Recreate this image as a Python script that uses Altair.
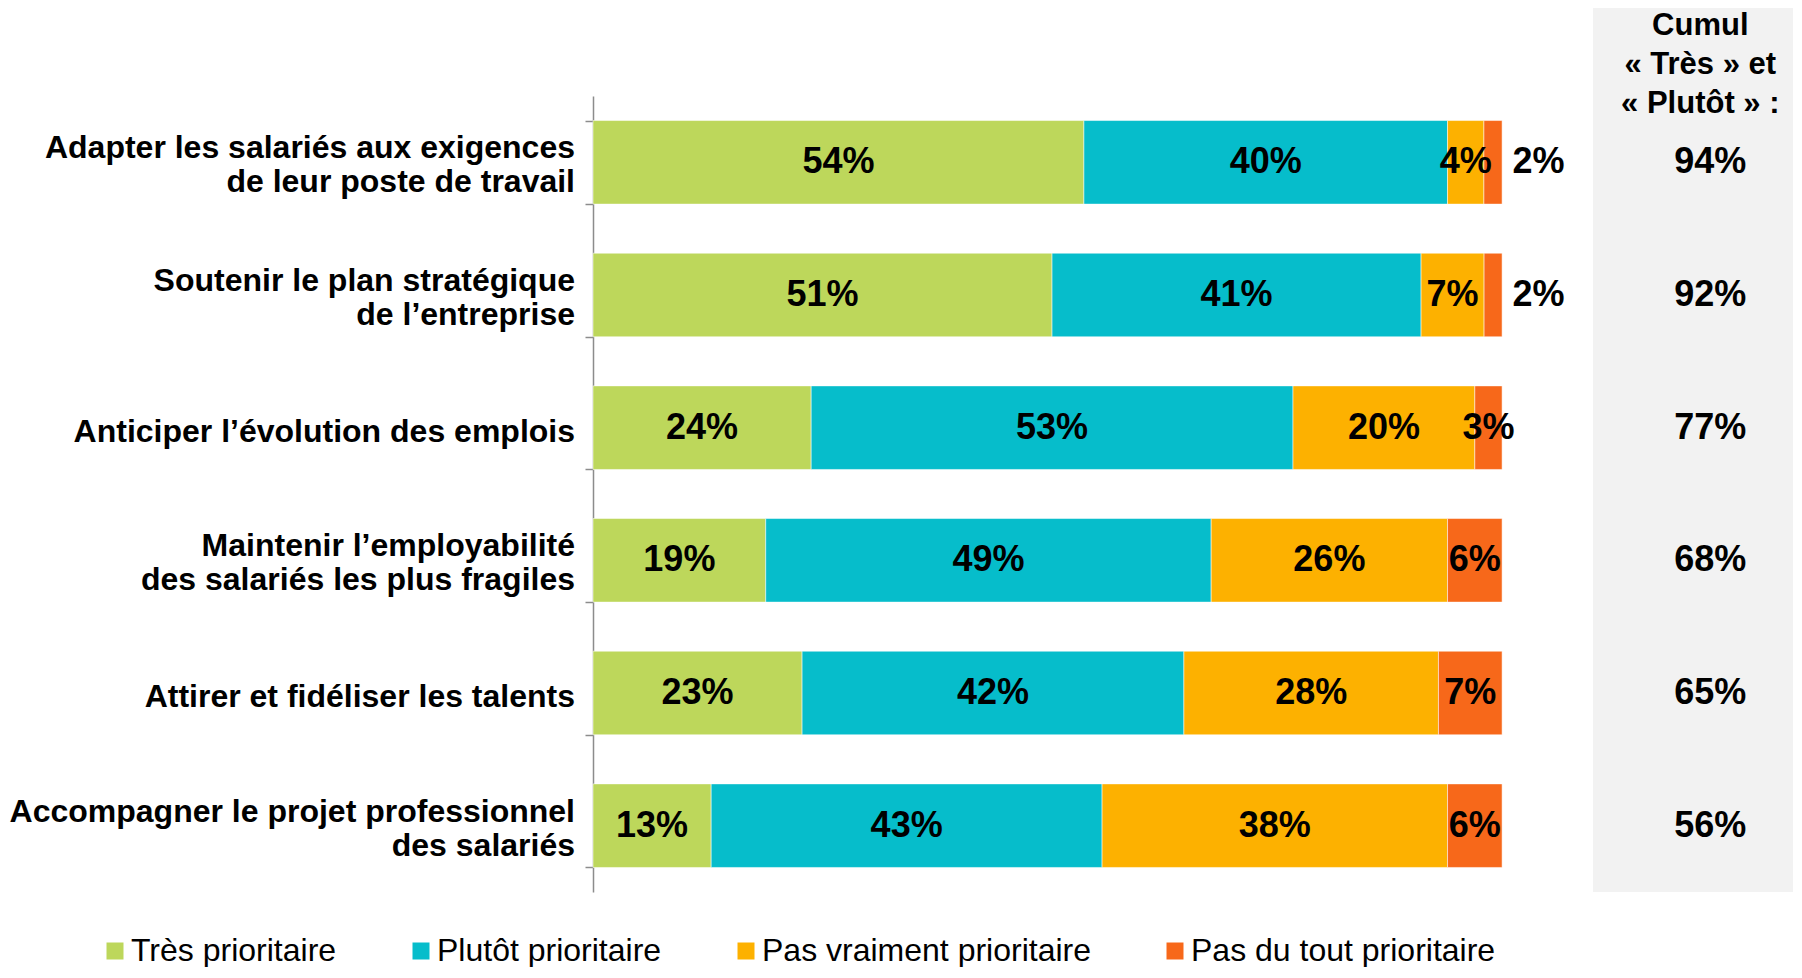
import altair as alt
import pandas as pd

categories = [
    "Adapter les salariés aux exigences|de leur poste de travail",
    "Soutenir le plan stratégique|de l’entreprise",
    "Anticiper l’évolution des emplois",
    "Maintenir l’employabilité|des salariés les plus fragiles",
    "Attirer et fidéliser les talents",
    "Accompagner le projet professionnel|des salariés",
]
tres = [54, 51, 24, 19, 23, 13]
plutot = [40, 41, 53, 49, 42, 43]
pas_vraiment = [4, 7, 20, 26, 28, 38]
pas_du_tout = [2, 2, 3, 6, 7, 6]
cumul = [94, 92, 77, 68, 65, 56]
series = ["Très prioritaire", "Plutôt prioritaire", "Pas vraiment prioritaire", "Pas du tout prioritaire"]
colors = ["#BDD75B", "#06BDCB", "#FDB100", "#F7681A"]
header_lines = ["Cumul", "« Très » et", "« Plutôt » :"]

rows = []
for i, cat in enumerate(categories):
    for j, vals in enumerate([tres, plutot, pas_vraiment, pas_du_tout]):
        rows.append({"cat": cat, "serie": series[j], "ord": j, "value": vals[i]})
df = pd.DataFrame(rows)
cum_df = pd.DataFrame({"cat": categories, "cumul": cumul})
cat_df = pd.DataFrame({"cat": categories})
head_df = pd.DataFrame({"txt": ["\n".join(header_lines)]})

FONT = "Liberation Sans"
W, H = 1200, 796
XMAX = 1.32
PANEL_X0 = 1.10
TOP_EXT = 88

x_scale = alt.Scale(domain=[0, XMAX], nice=False, zero=True)
y_enc = alt.Y(
    "cat:N",
    sort=categories,
    scale=alt.Scale(paddingInner=0.37, paddingOuter=0.185),
    axis=alt.Axis(
        title=None,
        labels=False,
        tickSize=8,
        tickColor="#8c8c8c",
        tickWidth=1.5,
        domainColor="#8c8c8c",
        domainWidth=1.5,
        tickBand="extent",
        grid=False,
    ),
)

panel = (
    alt.Chart(head_df)
    .transform_calculate(px0=str(PANEL_X0), px1=str(XMAX))
    .mark_rect(color="#F2F2F2")
    .encode(
        x=alt.X("px0:Q", scale=x_scale, axis=None),
        x2="px1:Q",
        y=alt.value(-TOP_EXT),
        y2=alt.value(H),
    )
)

bars = alt.Chart(df).mark_bar(stroke="white", strokeWidth=1, strokeOpacity=0.5).encode(
    x=alt.X("value:Q", stack="normalize", scale=x_scale, axis=None),
    y=y_enc,
    color=alt.Color(
        "serie:N",
        sort=series,
        scale=alt.Scale(domain=series, range=colors),
        legend=alt.Legend(
            orient="none",
            legendX=-494,
            legendY=H + 43,
            direction="horizontal",
            columns=4,
            title=None,
            symbolType="square",
            symbolSize=289,
            symbolStrokeWidth=0,
            symbolOpacity=1,
            labelFontSize=32,
            labelFont=FONT,
            labelColor="black",
            columnPadding=68,
            labelOffset=0,
            labelLimit=0,
        ),
    ),
    order=alt.Order("ord:Q"),
)

cat_base = alt.Chart(cat_df).transform_calculate(
    n="length(split(datum.cat, '|'))"
)
cat_one = (
    cat_base.transform_filter("datum.n == 1")
    .mark_text(font=FONT, fontSize=32, fontWeight="bold", color="black",
               align="right", baseline="middle", dy=4)
    .encode(x=alt.value(-18), y=y_enc, text="cat:N")
)
cat_two = (
    cat_base.transform_filter("datum.n == 2")
    .mark_text(font=FONT, fontSize=32, fontWeight="bold", color="black",
               align="right", baseline="middle", dy=-14, lineHeight=34, lineBreak="|")
    .encode(x=alt.value(-18), y=y_enc, text="cat:N")
)

labels = (
    alt.Chart(df)
    .transform_stack(
        stack="value", groupby=["cat"], as_=["x0", "x1"], offset="normalize",
        sort=[alt.SortField(field="ord", order="ascending")],
    )
    .transform_calculate(
        xm="datum.value < 2.5 ? datum.x1 + 0.04 : (datum.x0 + datum.x1) / 2",
        lab="datum.value + '%'",
    )
    .mark_text(font=FONT, fontSize=36, fontWeight="bold", color="black")
    .encode(x=alt.X("xm:Q", scale=x_scale, axis=None), y=y_enc, text="lab:N")
)

cum_text = (
    alt.Chart(cum_df)
    .transform_calculate(lab="datum.cumul + '%'", cx="1.229")
    .mark_text(font=FONT, fontSize=36, fontWeight="bold", color="black")
    .encode(x=alt.X("cx:Q", scale=x_scale, axis=None), y=y_enc, text="lab:N")
)

header = (
    alt.Chart(head_df)
    .transform_calculate(hx="1.218")
    .mark_text(
        font=FONT, fontSize=31, fontWeight="bold", color="black",
        lineHeight=39, baseline="middle", align="center", lineBreak="\n",
    )
    .encode(x=alt.X("hx:Q", scale=x_scale, axis=None), y=alt.value(-70), text="txt:N")
)

chart = (
    alt.layer(panel, bars, labels, cum_text, header, cat_one, cat_two)
    .properties(width=W, height=H, padding={"left": 1, "top": 0, "right": 0, "bottom": 0})
    .configure_view(stroke=None)
)

chart.save("out.html", embed_options={"renderer": "svg", "actions": False})
